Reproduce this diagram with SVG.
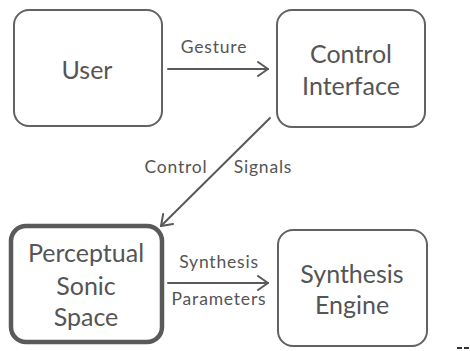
<svg xmlns="http://www.w3.org/2000/svg" width="470" height="351" viewBox="0 0 470 351">
  <defs>
    <style>
      .box { fill: #ffffff; stroke: #626262; stroke-width: 2; }
      .box-focus { fill: #ffffff; stroke: #5a5a5a; stroke-width: 4.5; }
      .label { font-family: Lato, "Open Sans", sans-serif; font-size: 25px; fill: #555555; text-anchor: middle; }
      .edge-label { font-family: Lato, "Open Sans", sans-serif; font-size: 17.5px; letter-spacing: 0.8px; fill: #555555; text-anchor: middle; }
      .edge { fill: none; stroke: #595959; stroke-width: 2; stroke-linecap: round; }
    </style>
    <marker id="chevron" viewBox="0 0 12 16" refX="11" refY="8" markerWidth="12" markerHeight="16" markerUnits="userSpaceOnUse" orient="auto">
      <path d="M1 1 L11 8 L1 15" fill="none" stroke="#595959" stroke-width="2" stroke-linecap="round" stroke-linejoin="round"/>
    </marker>
  </defs>
  <rect width="470" height="351" fill="#ffffff"/>

  <g id="user">
    <rect class="box" x="14" y="10" width="148" height="116" rx="15"/>
    <text class="label" x="87" y="79">User</text>
  </g>

  <g id="control-interface">
    <rect class="box" x="277" y="10" width="148" height="117" rx="15"/>
    <text class="label" x="351" y="63">Control</text>
    <text class="label" x="351" y="95">Interface</text>
  </g>

  <g id="perceptual-sonic-space">
    <rect class="box-focus" x="11" y="226" width="151" height="116" rx="15"/>
    <text class="label" x="86" y="262">Perceptual</text>
    <text class="label" x="86" y="295">Sonic</text>
    <text class="label" x="86" y="326">Space</text>
  </g>

  <g id="synthesis-engine">
    <rect class="box" x="278" y="230" width="149" height="116" rx="15"/>
    <text class="label" x="352" y="283">Synthesis</text>
    <text class="label" x="352" y="314">Engine</text>
  </g>

  <g id="connectors">
    <line class="edge" x1="168" y1="69" x2="268" y2="69" marker-end="url(#chevron)"/>
    <text class="edge-label" x="214" y="53">Gesture</text>

    <line class="edge" x1="270" y1="118" x2="161" y2="226" marker-end="url(#chevron)"/>
    <text class="edge-label" x="176" y="173">Control</text>
    <text class="edge-label" x="263" y="173">Signals</text>

    <line class="edge" x1="168" y1="283" x2="268" y2="283" marker-end="url(#chevron)"/>
    <text class="edge-label" x="219" y="268">Synthesis</text>
    <text class="edge-label" x="219" y="305">Parameters</text>
  </g>

  <!-- small dash marks at the lower right edge -->
  <g id="edge-marks" stroke="#333333" stroke-width="2">
    <line x1="457" y1="348" x2="462" y2="348"/>
    <line x1="464" y1="348" x2="469" y2="348"/>
  </g>
</svg>
